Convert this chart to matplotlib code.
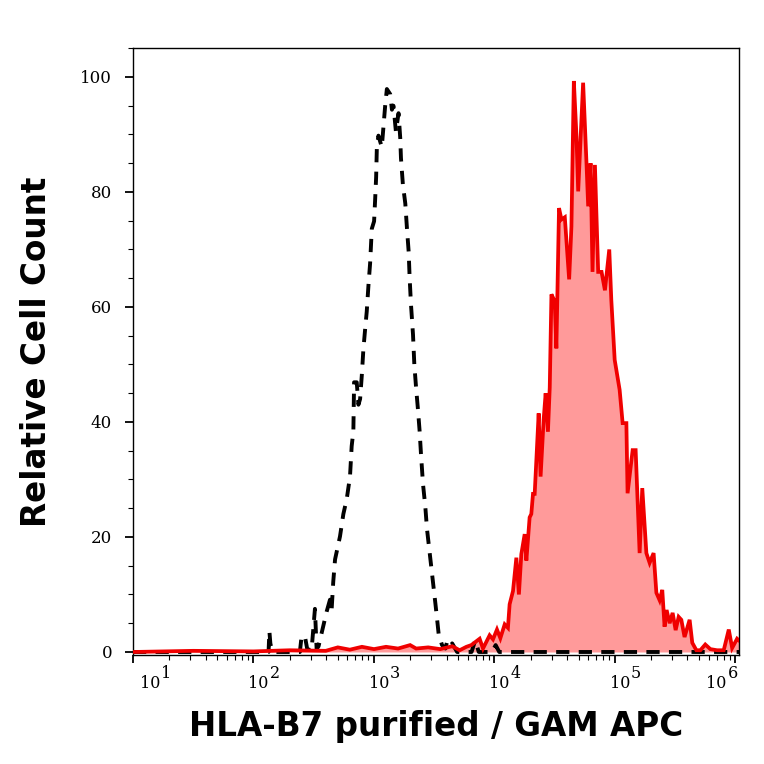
import numpy as np
import matplotlib
matplotlib.use("Agg")
import matplotlib.pyplot as plt
import matplotlib.transforms as mtransforms
from matplotlib.ticker import MultipleLocator, LogLocator, NullFormatter

# ---- data (log10 fluorescence intensity, relative cell count) ----
red_log = [1.0, 1.5, 2.0, 2.3, 2.6, 2.7, 2.8, 2.9, 3.0, 3.1, 3.2, 3.3, 3.35, 3.45,
           3.55, 3.65,
           3.711, 3.767, 3.808, 3.877, 3.905, 3.960, 3.988, 4.021, 4.049, 4.085,
           4.112, 4.126, 4.154, 4.182, 4.203, 4.223, 4.251, 4.265, 4.292, 4.306,
           4.320, 4.334, 4.348, 4.367, 4.383, 4.408, 4.425, 4.444,
           4.459, 4.473, 4.500, 4.514, 4.536, 4.556, 4.584,
           4.620, 4.639, 4.659, 4.681, 4.695, 4.717, 4.736, 4.764, 4.778, 4.798,
           4.814, 4.834, 4.861, 4.889, 4.917, 4.953,
           4.970, 4.998, 5.039, 5.064, 5.095, 5.105, 5.147, 5.172, 5.205, 5.227,
           5.261, 5.288, 5.321, 5.344, 5.371, 5.393, 5.412, 5.429, 5.454, 5.479,
           5.504, 5.529, 5.551, 5.578, 5.620, 5.642, 5.676,
           5.709, 5.750, 5.792, 5.848, 5.903, 5.945, 5.973, 6.014, 6.03]
red_count = [0.0, 0.2, 0.1, 0.3, 0.2, 0.8, 0.4, 0.9, 0.5, 0.9, 0.6, 1.2, 0.6, 0.8,
             0.5, 1.0,
             0.3, 0.9, 1.2, 2.3, 0.6, 2.9, 2.2, 3.9, 2.4, 4.8,
             4.2, 8.3, 10.6, 16.4, 10.0, 17.0, 20.5, 15.9, 23.4, 24.0,
             27.5, 27.5, 33.4, 41.5, 30.5, 40.3, 45.0, 38.3,
             46.0, 62.2, 61.0, 52.8, 77.2, 75.2, 75.6,
             64.8, 74.0, 99.3, 89.6, 80.1, 90.2, 99.0, 85.0, 77.5, 85.0,
             66.1, 84.7, 66.1, 66.1, 62.9, 70.0,
             61.2, 50.8, 45.6, 39.8, 39.8, 27.6, 35.1, 35.1, 17.2, 28.5,
             17.2, 15.5, 17.2, 10.3, 9.0, 10.8, 4.4, 7.3, 5.0, 6.8,
             3.8, 6.1, 5.6, 2.6, 5.6, 1.6, 0.3,
             0.3, 1.3, 0.5, 0.3, 0.3, 3.9, 0.7, 2.3, 2.0]

iso_log = [1.0, 2.0, 2.125, 2.132, 2.14, 2.15, 2.17, 2.385, 2.399, 2.427, 2.446,
           2.482, 2.510, 2.524, 2.54, 2.607, 2.635, 2.649, 2.662, 2.677, 2.718,
           2.746, 2.774, 2.801, 2.815, 2.829, 2.835, 2.857, 2.871, 2.885, 2.899,
           2.912, 2.926, 2.940, 2.954, 2.968, 2.982, 3.001, 3.010, 3.018, 3.024,
           3.037, 3.065, 3.093, 3.107, 3.135, 3.149, 3.162, 3.182, 3.204, 3.218,
           3.224, 3.240, 3.260, 3.274, 3.288, 3.296, 3.307, 3.324, 3.335, 3.349,
           3.365, 3.379, 3.390, 3.407, 3.426, 3.440, 3.454, 3.468, 3.482, 3.496,
           3.510, 3.524, 3.537, 3.565, 3.593, 3.607, 3.635, 3.649, 3.690, 3.81,
           3.84, 3.87, 3.98, 4.01, 4.04, 6.03]
iso_count = [0.0, 0.0, 0.0, 3.6, 1.5, 0.5, 0.0, 0.0, 2.7, 2.7, 0.5,
             0.3, 7.5, 0.5, 1.0, 7.0, 9.1, 7.5, 12.2, 16.1, 20.1,
             24.0, 26.6, 30.5, 35.8, 38.4, 46.9, 46.9, 43.0, 44.0, 48.1,
             52.6, 56.0, 59.2, 63.7, 67.6, 73.6, 74.9, 78.8, 82.6, 87.8,
             89.8, 87.8, 95.0, 97.9, 97.0, 94.3, 95.0, 90.5, 93.7, 89.4,
             85.9, 81.3, 78.0, 73.6, 69.6, 65.1, 60.5, 55.2, 50.0, 46.1,
             42.2, 38.4, 34.5, 29.2, 25.3, 21.4, 18.8, 16.2, 13.6, 11.0,
             8.4, 5.7, 3.1, 1.2, 0.6, 1.8, 1.0, 1.5, 0.0, 0.0,
             2.0, 0.0, 0.0, 1.2, 0.0, 0.0]

y_ticks = [0, 20, 40, 60, 80, 100]
x_exponents = [1, 2, 3, 4, 5, 6]
x_label = "HLA-B7 purified / GAM APC"
y_label = "Relative Cell Count"

red_x = 10 ** np.array(red_log)
iso_x = 10 ** np.array(iso_log)

fig = plt.figure(figsize=(7.64, 7.64), dpi=100)
ax = fig.add_axes([0.1741, 0.1427, 0.7932, 0.7945])

ax.fill_between(red_x, 0, red_count, color='#FF9A9A', linewidth=0, zorder=1)
ax.plot(iso_x, iso_count, color='black', linewidth=2.8,
        linestyle=(0, (3.4, 2.4)), zorder=2)
ax.plot(red_x, red_count, color='#F00000', linewidth=2.7, zorder=3,
        solid_joinstyle='miter')

ax.set_xscale('log')
ax.set_xlim(10 ** 1.0, 10 ** 6.03)
ax.set_ylim(-0.52, 105.04)

ax.xaxis.set_major_locator(LogLocator(base=10, numticks=10))
ax.xaxis.set_major_formatter(NullFormatter())
ax.xaxis.set_minor_locator(LogLocator(base=10, subs=np.arange(2, 10), numticks=20))
ax.xaxis.set_minor_formatter(NullFormatter())
ax.set_yticks(y_ticks)
ax.yaxis.set_minor_locator(MultipleLocator(5))

ax.tick_params(axis='both', which='major', direction='out', length=6, width=1.3,
               labelsize=12, colors='black')
ax.tick_params(axis='y', which='major', pad=9)
ax.tick_params(axis='both', which='minor', direction='out', length=3.5, width=0.8)
for lab in ax.get_yticklabels():
    lab.set_fontfamily('DejaVu Serif')

# x tick labels: "10" with a full-size raised exponent
trans = mtransforms.blended_transform_factory(ax.transData, ax.transAxes)
n = len(x_exponents)
for i, e in enumerate(x_exponents):
    if i == 0:
        dx = 7
    elif i == n - 1:
        dx = -29
    else:
        dx = -5
    ax.annotate("10", xy=(10.0 ** e, 0), xycoords=trans,
                xytext=(dx, -33), textcoords='offset pixels',
                ha='left', va='baseline', fontsize=11.5, family='DejaVu Serif',
                annotation_clip=False)
    ax.annotate(str(e), xy=(10.0 ** e, 0), xycoords=trans,
                xytext=(dx + 21, -23), textcoords='offset pixels',
                ha='left', va='baseline', fontsize=11.5, family='DejaVu Serif',
                annotation_clip=False)

for s in ax.spines.values():
    s.set_linewidth(1.0)
    s.set_color('black')

ax.set_xlabel(x_label, fontsize=23.5, fontweight='bold', family='DejaVu Sans',
              labelpad=30)
ax.set_ylabel(y_label, fontsize=23.5, fontweight='bold', family='DejaVu Sans',
              labelpad=20)

fig.savefig('out.png', dpi=100)
